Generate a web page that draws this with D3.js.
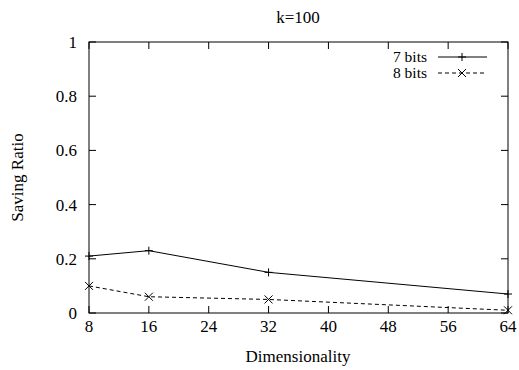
<!DOCTYPE html>
<html>
<head>
<meta charset="utf-8">
<script src="https://cdn.jsdelivr.net/npm/d3@7"></script>
<style>
  body { margin: 0; background: #fff; }
</style>
</head>
<body>
<svg id="chart" width="519" height="370" font-family="'Liberation Serif', 'DejaVu Serif', serif"></svg>
<script>
// data
const dims = [8, 16, 32, 64];
const bits7 = [0.21, 0.23, 0.15, 0.07];
const bits8 = [0.10, 0.06, 0.05, 0.01];
const xTicks = [8, 16, 24, 32, 40, 48, 56, 64];
const yTicks = [0, 0.2, 0.4, 0.6, 0.8, 1];
const seriesNames = ['7 bits', '8 bits'];

const svg = d3.select('#chart');
const serif = "'Liberation Serif', 'DejaVu Serif', serif";
const margin = { left: 89, right: 11, top: 42, bottom: 57 };
const W = 519, H = 370;
const x = d3.scaleLinear().domain([8, 64]).range([margin.left, W - margin.right]);
const y = d3.scaleLinear().domain([0, 1]).range([H - margin.bottom, margin.top]);
const fs = 17, tick = 7;

const g = svg.append('g');

// frame
g.append('rect')
  .attr('x', x(8)).attr('y', y(1))
  .attr('width', x(64) - x(8)).attr('height', y(0) - y(1))
  .attr('fill', 'none').attr('stroke', '#000').attr('stroke-width', 1);

// x ticks (inside, mirrored)
xTicks.forEach(t => {
  g.append('line').attr('x1', x(t)).attr('x2', x(t)).attr('y1', y(0)).attr('y2', y(0) - tick).attr('stroke', '#000');
  g.append('line').attr('x1', x(t)).attr('x2', x(t)).attr('y1', y(1)).attr('y2', y(1) + tick).attr('stroke', '#000');
  g.append('text').attr('x', x(t)).attr('y', y(0) + 19).attr('text-anchor', 'middle')
    .attr('font-family', serif).attr('font-size', fs).text(t);
});

// y ticks
yTicks.forEach(t => {
  g.append('line').attr('x1', x(8)).attr('x2', x(8) + tick).attr('y1', y(t)).attr('y2', y(t)).attr('stroke', '#000');
  g.append('line').attr('x1', x(64)).attr('x2', x(64) - tick).attr('y1', y(t)).attr('y2', y(t)).attr('stroke', '#000');
  g.append('text').attr('x', x(8) - 12).attr('y', y(t)).attr('dy', '0.35em').attr('text-anchor', 'end')
    .attr('font-family', serif).attr('font-size', fs).text(t);
});

// titles
svg.append('text').attr('x', 298).attr('y', 23).attr('text-anchor', 'middle')
  .attr('font-family', serif).attr('font-size', fs).text('k=100');
svg.append('text').attr('x', 298).attr('y', 362).attr('text-anchor', 'middle')
  .attr('font-family', serif).attr('font-size', fs).text('Dimensionality');
svg.append('text').attr('transform', 'translate(23,' + y(0.5) + ') rotate(-90)')
  .attr('text-anchor', 'middle').attr('font-family', serif).attr('font-size', fs).text('Saving Ratio');

const line = d3.line().x(d => x(d[0])).y(d => y(d[1]));
const plus = (sel, cx, cy) => sel.append('path')
  .attr('d', `M${cx - 4},${cy}H${cx + 4}M${cx},${cy - 4}V${cy + 4}`).attr('stroke', '#000').attr('fill', 'none');
const cross = (sel, cx, cy) => sel.append('path')
  .attr('d', `M${cx - 4},${cy - 4}L${cx + 4},${cy + 4}M${cx - 4},${cy + 4}L${cx + 4},${cy - 4}`).attr('stroke', '#000').attr('fill', 'none');

const s7 = dims.map((d, i) => [d, bits7[i]]);
const s8 = dims.map((d, i) => [d, bits8[i]]);

g.append('path').attr('d', line(s7)).attr('fill', 'none').attr('stroke', '#000');
s7.forEach(p => plus(g, x(p[0]), y(p[1])));
g.append('path').attr('d', line(s8)).attr('fill', 'none').attr('stroke', '#000').attr('stroke-dasharray', '4,3');
s8.forEach(p => cross(g, x(p[0]), y(p[1])));

// legend
const leg = svg.append('g');
[0, 1].forEach(i => {
  const ly = 57 + i * 16;
  leg.append('text').attr('x', 427).attr('y', ly).attr('dy', '0.35em').attr('text-anchor', 'end')
    .attr('font-family', serif).attr('font-size', 15.5).text(seriesNames[i]);
  const l = leg.append('line').attr('x1', 438).attr('x2', 487).attr('y1', ly).attr('y2', ly).attr('stroke', '#000');
  if (i === 0) plus(leg, 462, ly); else { l.attr('stroke-dasharray', '4,3'); cross(leg, 462, ly); }
});
</script>
</body>
</html>
